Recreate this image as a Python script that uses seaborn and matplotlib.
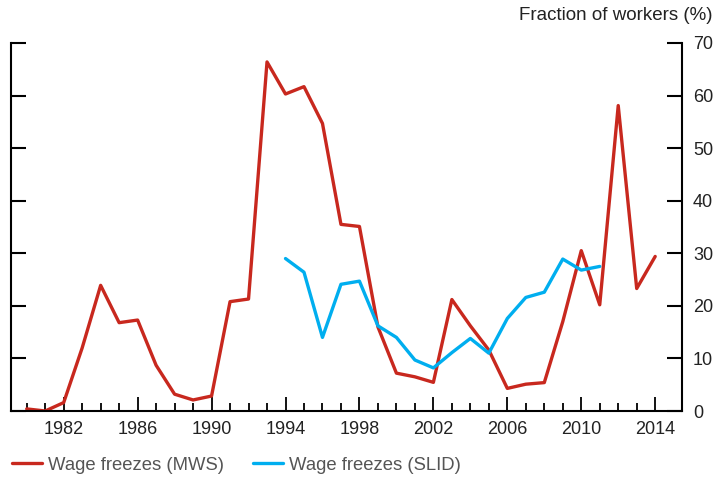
import matplotlib
matplotlib.use("Agg")
import matplotlib.pyplot as plt
import pandas as pd
import seaborn as sns

# wage freezes, fraction of workers (%)
mws_years = list(range(1980, 2015))
mws_values = [0.4, 0.0, 1.6, 12.0, 23.9, 16.8, 17.3, 8.7, 3.2, 2.1, 2.85,
              20.8, 21.3, 66.4, 60.3, 61.7, 54.7, 35.5, 35.1, 16.0, 7.2,
              6.5, 5.45, 21.2, 16.2, 11.6, 4.3, 5.1, 5.4, 17.0, 30.5,
              20.2, 58.1, 23.3, 29.4]
slid_years = list(range(1994, 2012))
slid_values = [29.0, 26.4, 14.0, 24.1, 24.7, 16.2, 14.0, 9.7, 8.2, 11.1,
               13.8, 11.0, 17.6, 21.6, 22.6, 28.9, 26.8, 27.5]
labels = ["Wage freezes (MWS)", "Wage freezes (SLID)"]
colors = ["#C8281E", "#00AEEF"]

df = pd.concat([
    pd.DataFrame({"year": mws_years, "value": mws_values, "series": labels[0]}),
    pd.DataFrame({"year": slid_years, "value": slid_values, "series": labels[1]}),
])

sns.set_style("white")
plt.rcParams['font.family'] = ['Liberation Sans', 'DejaVu Sans']

fig = plt.figure(figsize=(7.16, 4.78), dpi=100)
ax = fig.add_axes([11 / 716, 67 / 478, 671 / 716, 368 / 478])

sns.lineplot(data=df, x="year", y="value", hue="series", palette=colors,
             linewidth=2.4, ax=ax, legend=False)

ax.set_xlim(1979.15, 2015.45)
ax.set_ylim(0, 70)
ax.set_xlabel("")
ax.set_ylabel("")

ax.set_xticks(range(1982, 2015, 4))
ax.set_xticks(range(1980, 2015), minor=True)
ax.set_yticks(range(0, 71, 10))

ax.spines["top"].set_visible(False)
for side in ["left", "right", "bottom"]:
    ax.spines[side].set_visible(True)
    ax.spines[side].set_color("black")
    ax.spines[side].set_linewidth(1.5)

ax.tick_params(axis="y", direction="in", length=11, width=1.5, left=True,
               right=True, labelleft=False, labelright=True, labelsize=13,
               labelcolor="#222222", pad=8, color="black")
ax.tick_params(axis="x", which="major", direction="in", length=10, width=1.3,
               bottom=True, labelsize=13, labelcolor="#222222", pad=7,
               color="black")
ax.tick_params(axis="x", which="minor", direction="in", length=5.5, width=1.3,
               bottom=True, color="black")

fig.text(0.995, 0.967, "Fraction of workers (%)", ha="right", va="center",
         fontsize=13.5, color="#222222")

handles = [plt.Line2D([], [], color=c, linewidth=2.4) for c in colors]
fig.legend(handles, labels, loc="center left", bbox_to_anchor=(12 / 716, 13 / 478),
           ncol=2, frameon=False, fontsize=13.3, labelcolor="#555555",
           borderpad=0, borderaxespad=0, handlelength=1.62,
           handletextpad=0.32, columnspacing=1.57)

fig.savefig("out.png", dpi=100)
